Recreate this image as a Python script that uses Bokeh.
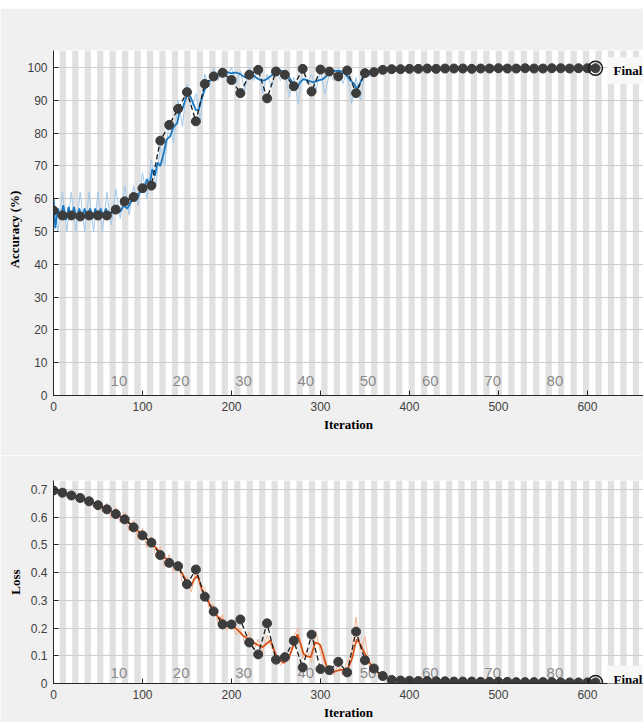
from bokeh.plotting import figure
from bokeh.layouts import column
from bokeh.models import Range1d, FixedTicker, Label, Spacer
from bokeh.core.properties import value
from bokeh.embed import file_html
from bokeh.resources import INLINE

# ---------------- data ----------------
ITERS_PER_EPOCH = 7
N_STRIPE_EPOCHS = 94
FINAL_ITER = 609
epoch_labels = [10, 20, 30, 40, 50, 60, 70, 80]

val_iter = list(range(0, 601, 10)) + [FINAL_ITER]
val_acc = [56.4, 54.9, 54.9, 54.6, 54.9, 54.9, 54.9, 56.7, 59.2, 60.5,
           63.2, 64.0, 77.7, 82.5, 87.4, 92.5, 83.6, 95.0, 97.3, 98.4,
           96.2, 92.2, 97.8, 99.3, 90.6, 98.8, 97.8, 94.3, 99.6, 92.7,
           99.4, 98.8, 97.3, 99.1, 92.2, 98.3, 98.6, 99.3, 99.5, 99.5,
           99.6, 99.6, 99.7, 99.6, 99.7, 99.7, 99.7, 99.6, 99.7, 99.7,
           99.8, 99.7, 99.7, 99.8, 99.7, 99.7, 99.8, 99.8, 99.7, 99.8,
           99.8, 99.8]
val_loss = [0.696, 0.688, 0.678, 0.669, 0.657, 0.643, 0.628, 0.611, 0.592, 0.563,
            0.534, 0.508, 0.463, 0.435, 0.423, 0.358, 0.411, 0.313, 0.260, 0.213,
            0.213, 0.231, 0.148, 0.105, 0.217, 0.086, 0.095, 0.154, 0.058, 0.176,
            0.052, 0.048, 0.078, 0.040, 0.187, 0.084, 0.054, 0.027, 0.013, 0.011,
            0.010, 0.009, 0.009, 0.008, 0.008, 0.007, 0.007, 0.007, 0.006, 0.006,
            0.006, 0.006, 0.005, 0.005, 0.005, 0.005, 0.005, 0.004, 0.004, 0.004,
            0.004, 0.004]

acc_smooth_iter = [0, 2, 5, 8, 11, 14, 17, 20, 23, 26, 29, 32, 35, 38, 41, 44, 47, 50, 53, 56,
                   59, 62, 65, 68, 71, 75, 79, 83, 87, 91, 95, 98, 101, 105, 108, 111, 114, 117, 120, 124,
                   127, 131, 135, 139, 142, 145, 148, 151, 154, 157, 160, 163, 166, 169, 172, 176, 180, 185, 190, 195,
                   200, 205, 210, 215, 220, 225, 230, 236, 240, 245, 250, 255, 260, 266, 270, 273, 277, 281, 286, 292,
                   297, 303, 307, 311, 316, 322, 328, 334, 338, 341, 345, 349, 354, 360, 370, 400, 450, 500, 550, 609]
acc_smooth = [60, 51, 57, 54, 58, 53.5, 57.5, 54, 57.5, 54, 57, 54, 57, 54, 57, 54, 57, 54, 57, 54.5,
              57, 54.5, 56, 55.5, 57, 56, 58, 57, 59, 60, 60.5, 63, 62, 66, 64, 69, 67, 71, 70, 74,
              78, 79, 82, 83, 87, 87.5, 90, 92, 91, 89, 87, 87, 90, 92.5, 95, 96, 97.5, 98, 98.5, 98.6,
              98.2, 98.5, 98, 97, 97, 97.5, 96.5, 96, 96.5, 97.6, 98.5, 99.2, 98.5, 96.5, 94.5, 93.5, 95.5, 96.5, 96, 95.5,
              96, 96.5, 97.5, 98.5, 99, 99, 98, 96, 95, 93.5, 95.5, 98, 98.5, 99.3, 99.6, 99.7, 99.7, 99.8, 99.8, 99.8]

acc_raw_iter = list(range(0, 371, 5)) + [400, 500, FINAL_ITER]
acc_raw = [61, 50, 62, 50, 62, 50, 62, 50, 62, 50, 62, 50, 62, 52, 63, 54, 64, 55, 64, 58,
           68, 60, 72, 64, 76, 70, 84, 77, 90, 82, 95, 88, 92, 84, 98, 94, 100, 96, 100, 97,
           100, 95, 99, 93, 100, 96, 100, 92, 98, 94, 100, 96, 99, 91, 97, 89, 100, 95, 98, 93,
           99, 92, 98, 96, 100, 95, 99, 89, 97, 90, 99, 97, 100, 99, 100,
           100, 100, 100]

loss_smooth_iter = [0, 5, 10, 15, 20, 25, 30, 35, 40, 45, 50, 55, 60, 65, 70, 75, 80, 85, 90, 95,
                    100, 105, 110, 115, 120, 125, 130, 135, 140, 145, 150, 155, 158, 162, 167, 171, 175, 180, 185, 191,
                    196, 202, 208, 213, 219, 225, 230, 235, 240, 244, 248, 251, 255, 259, 263, 266, 270, 274, 278, 281,
                    285, 289, 292, 294, 297, 300, 304, 307, 311, 315, 319, 322, 326, 330, 333, 336, 339, 341, 345, 348,
                    352, 356, 360, 364, 368, 371, 376, 380, 390, 400, 450, 500, 550, 609]
loss_smooth = [0.695, 0.692, 0.688, 0.684, 0.680, 0.675, 0.670, 0.664, 0.658, 0.651, 0.645, 0.637, 0.630, 0.620, 0.612, 0.603, 0.595, 0.580, 0.566, 0.550,
               0.535, 0.522, 0.507, 0.490, 0.470, 0.455, 0.440, 0.430, 0.420, 0.395, 0.365, 0.355, 0.375, 0.390, 0.335, 0.320, 0.290, 0.262, 0.240, 0.226,
               0.215, 0.208, 0.190, 0.173, 0.160, 0.148, 0.138, 0.131, 0.145, 0.155, 0.120, 0.095, 0.082, 0.074, 0.088, 0.106, 0.140, 0.177, 0.140, 0.106,
               0.098, 0.095, 0.125, 0.148, 0.145, 0.138, 0.095, 0.060, 0.048, 0.042, 0.046, 0.049, 0.050, 0.049, 0.070, 0.095, 0.140, 0.159, 0.140, 0.120,
               0.095, 0.071, 0.055, 0.042, 0.032, 0.025, 0.018, 0.014, 0.010, 0.008, 0.006, 0.005, 0.004, 0.004]

loss_raw_iter = list(range(0, 371, 5)) + [380, 400, FINAL_ITER]
loss_raw = [0.700, 0.685, 0.695, 0.675, 0.690, 0.665, 0.680, 0.650, 0.670, 0.635, 0.660, 0.620, 0.650, 0.595, 0.635, 0.580, 0.620, 0.550, 0.590, 0.520,
            0.560, 0.490, 0.530, 0.455, 0.495, 0.420, 0.465, 0.400, 0.440, 0.360, 0.385, 0.330, 0.410, 0.355, 0.345, 0.270, 0.285, 0.215, 0.250, 0.190,
            0.230, 0.175, 0.200, 0.145, 0.185, 0.120, 0.160, 0.110, 0.175, 0.130, 0.105, 0.065, 0.100, 0.080, 0.170, 0.200, 0.090, 0.120, 0.075, 0.190,
            0.110, 0.070, 0.060, 0.030, 0.070, 0.030, 0.080, 0.110, 0.240, 0.120, 0.170, 0.060, 0.070, 0.030, 0.030,
            0.012, 0.008, 0.004]

# ---------------- styling ----------------
BG = "#f0f0f0"
STRIPE = "#e1e1e1"
X_END = 663
W = 643
stripe_left = [e * ITERS_PER_EPOCH for e in range(1, N_STRIPE_EPOCHS, 2)]
stripe_right = [l + ITERS_PER_EPOCH for l in stripe_left]
label_x = [(k + 0.5) * ITERS_PER_EPOCH for k in epoch_labels]
label_txt = [str(k) for k in epoch_labels]


def make_fig(height, top, bottom, y_end, ticks, ylabel, label_y, final_y, ylabel_standoff):
    p = figure(width=W, height=height, x_range=Range1d(0, X_END), y_range=Range1d(0, y_end),
               output_backend="svg", toolbar_location=None,
               min_border_left=53, min_border_right=0, min_border_top=top, min_border_bottom=bottom)
    p.background_fill_color = "white"
    p.border_fill_color = BG
    p.outline_line_color = None
    p.quad(left=stripe_left, right=stripe_right, bottom=0, top=y_end,
           fill_color=STRIPE, line_color=None, level="image")
    p.xgrid.visible = False
    p.ygrid.grid_line_color = "#cdcdcd"
    p.ygrid.grid_line_width = 1
    p.yaxis.ticker = FixedTicker(ticks=ticks)
    p.xaxis.ticker = FixedTicker(ticks=[0, 100, 200, 300, 400, 500, 600])
    for ax in (p.xaxis, p.yaxis):
        ax.major_tick_in = 5
        ax.major_tick_out = 0
        ax.minor_tick_line_color = None
        ax.axis_line_color = "#262626"
        ax.major_tick_line_color = "#262626"
        ax.major_label_text_font = "Liberation Sans"
        ax.major_label_text_font_size = "12px"
        ax.major_label_text_color = "#404040"
        ax.axis_label_text_font = "Liberation Serif"
        ax.axis_label_text_font_style = "bold"
        ax.axis_label_text_font_size = "13px"
        ax.axis_label_text_color = "black"
    p.xaxis.axis_label = "Iteration"
    p.xaxis.major_label_standoff = 6
    p.xaxis.axis_label_standoff = 3
    p.yaxis.axis_label = ylabel
    p.yaxis.major_label_standoff = 6
    p.yaxis.axis_label_standoff = ylabel_standoff
    p.text(x=label_x, y=[label_y] * len(label_x), text=label_txt,
           text_font=value("Liberation Sans"), text_font_size="15px",
           text_color="#8a8a8a", text_align="center", text_baseline="middle")
    fl = Label(x=FINAL_ITER, y=final_y, x_offset=12, text="Final", text_baseline="middle",
               text_font="Liberation Serif", text_font_style="bold", text_font_size="13px",
               text_color="black", background_fill_color="#f8f8f8", padding=6)
    p.add_layout(fl)
    return p


p1 = make_fig(447, 42, 60, 105.2, list(range(0, 101, 10)), "Accuracy     (%)", 4.3,
              val_acc[-1] - 0.8, 2)
p1.line(acc_raw_iter, acc_raw, line_color="#a3c9ea", line_width=1)
p1.line(acc_smooth_iter, acc_smooth, line_color="#1a78c2", line_width=1.8)
p1.line(val_iter, val_acc, line_color="#1a1a1a", line_width=1.3, line_dash="5 3")
p1.scatter(val_iter, val_acc, size=9, fill_color="#3c3c3c", line_color="#3c3c3c")
p1.scatter([FINAL_ITER], [val_acc[-1]], size=14, fill_color=None, line_color="#1a1a1a", line_width=1.5)

loss_ticks = [0, 0.1, 0.2, 0.3, 0.4, 0.5, 0.6, 0.7]
p2 = make_fig(267, 25, 35, 0.732, loss_ticks, "Loss", 0.039, val_loss[-1] + 0.012, 5)
p2.yaxis.major_label_overrides = {0: "0"}
p2.line(loss_raw_iter, loss_raw, line_color="#f4b696", line_width=1)
p2.line(loss_smooth_iter, loss_smooth, line_color="#d95319", line_width=1.8)
p2.line(val_iter, val_loss, line_color="#1a1a1a", line_width=1.3, line_dash="5 3")
p2.scatter(val_iter, val_loss, size=9, fill_color="#3c3c3c", line_color="#3c3c3c")
p2.scatter([FINAL_ITER], [val_loss[-1]], size=14, fill_color=None, line_color="#1a1a1a", line_width=1.5)

top_strip = Spacer(width=W, height=8)

layout = column(top_strip, p1, p2, spacing=0)
open("out.html", "w").write(file_html(layout, INLINE))
